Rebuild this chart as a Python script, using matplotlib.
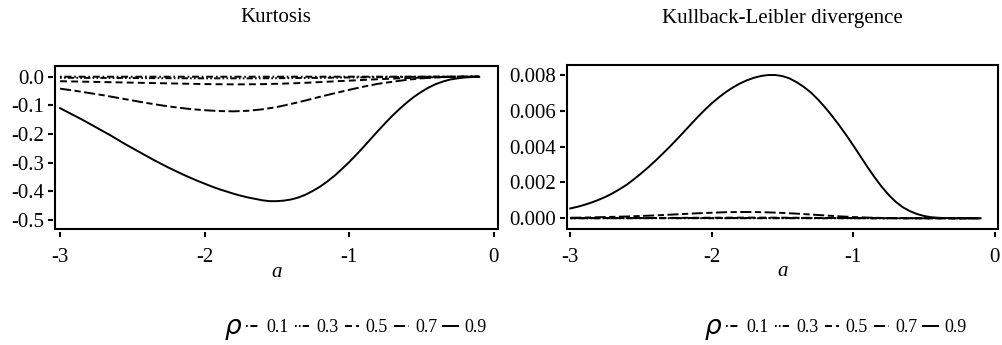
import numpy as np
import matplotlib
matplotlib.use("Agg")
import matplotlib.pyplot as plt
from matplotlib.patches import Rectangle

plt.rcParams['font.family'] = ['Liberation Serif', 'DejaVu Serif']
plt.rcParams['lines.scale_dashes'] = False

# coarse grid for the small-rho curves, finer grid for rho = 0.9
a_vals = [-3.0, -2.9, -2.8, -2.7, -2.6, -2.5, -2.4, -2.3, -2.2, -2.1,
          -2.0, -1.9, -1.8, -1.7, -1.6, -1.5, -1.4, -1.3, -1.2, -1.1,
          -1.0, -0.9, -0.8, -0.7, -0.6, -0.5, -0.4, -0.3, -0.2, -0.1]
a_fine = [-3.00, -2.95, -2.90, -2.85, -2.80, -2.75, -2.70, -2.65, -2.60, -2.55,
          -2.50, -2.45, -2.40, -2.35, -2.30, -2.25, -2.20, -2.15, -2.10, -2.05,
          -2.00, -1.95, -1.90, -1.85, -1.80, -1.75, -1.70, -1.65, -1.60, -1.55,
          -1.50, -1.45, -1.40, -1.35, -1.30, -1.25, -1.20, -1.15, -1.10, -1.05,
          -1.00, -0.95, -0.90, -0.85, -0.80, -0.75, -0.70, -0.65, -0.60, -0.55,
          -0.50, -0.45, -0.40, -0.35, -0.30, -0.25, -0.20, -0.15, -0.10]

rho_labels = ['0.1', '0.3', '0.5', '0.7', '0.9']

# kurtosis for each rho
kurt_01 = [-0.0003] * 20 + [-0.0002, -0.0002, -0.0001, -0.0001, -0.0001,
                            0.0, 0.0, 0.0, 0.0, 0.0]
kurt_03 = [-0.004, -0.0042, -0.0044, -0.0046, -0.0048, -0.005, -0.0052, -0.0054, -0.0056, -0.0058,
           -0.006, -0.006, -0.006, -0.006, -0.0058, -0.0055, -0.0051, -0.0047, -0.0042, -0.0036,
           -0.003, -0.0025, -0.002, -0.0015, -0.001, -0.0007, -0.0004, -0.0002, -0.0001, 0.0]
kurt_05 = [-0.016, -0.017, -0.018, -0.019, -0.020, -0.021, -0.022, -0.023, -0.024, -0.025,
           -0.026, -0.0265, -0.027, -0.0268, -0.0262, -0.025, -0.0235, -0.0215, -0.019, -0.0165,
           -0.014, -0.0115, -0.009, -0.007, -0.005, -0.0035, -0.002, -0.001, -0.0005, 0.0]
kurt_07 = [-0.042, -0.049, -0.057, -0.065, -0.074, -0.083, -0.092, -0.100, -0.107, -0.113,
           -0.117, -0.120, -0.121, -0.119, -0.114, -0.106, -0.095, -0.083, -0.070, -0.058,
           -0.046, -0.035, -0.025, -0.018, -0.011, -0.006, -0.003, -0.001, 0.0, 0.0]
kurt_09 = [-0.110, -0.123, -0.136, -0.149, -0.163, -0.177, -0.191, -0.205, -0.220, -0.235,
           -0.249, -0.263, -0.277, -0.291, -0.304, -0.317, -0.329, -0.341, -0.352, -0.363,
           -0.373, -0.383, -0.392, -0.400, -0.408, -0.415, -0.421, -0.426, -0.431, -0.434,
           -0.434, -0.432, -0.428, -0.421, -0.411, -0.398, -0.383, -0.365, -0.345, -0.322,
           -0.298, -0.272, -0.245, -0.217, -0.189, -0.162, -0.136, -0.112, -0.090, -0.070,
           -0.053, -0.038, -0.026, -0.017, -0.010, -0.006, -0.003, -0.0015, -0.001]

# Kullback-Leibler divergence for each rho
kl_01 = [0.0] * 30
kl_03 = [0.000001, 0.000001, 0.000001, 0.000002, 0.000002, 0.000002, 0.000003, 0.000003, 0.000003, 0.000003,
         0.000003, 0.000003, 0.000003, 0.000003, 0.000003, 0.000003, 0.000002, 0.000002, 0.000002, 0.000001,
         0.000001, 0.000001, 0.0, 0.0, 0.0, 0.0, 0.0, 0.0, 0.0, 0.0]
kl_05 = [0.000004, 0.000005, 0.000007, 0.000009, 0.000011, 0.000014, 0.000018, 0.000022, 0.000026, 0.000030,
         0.000033, 0.000036, 0.000038, 0.000038, 0.000037, 0.000034, 0.000030, 0.000025, 0.000019, 0.000014,
         0.000009, 0.000005, 0.000003, 0.000001, 0.0, 0.0, 0.0, 0.0, 0.0, 0.0]
kl_07 = [0.00003, 0.00004, 0.00006, 0.00008, 0.00010, 0.00013, 0.00016, 0.00020, 0.00024, 0.00028,
         0.00031, 0.00034, 0.00035, 0.00035, 0.00033, 0.00030, 0.00026, 0.00021, 0.00016, 0.00011,
         0.00007, 0.00004, 0.00002, 0.00001, 0.000005, 0.0, 0.0, 0.0, 0.0, 0.0]
kl_09 = [0.00055, 0.00064, 0.00075, 0.00088, 0.00103, 0.00120, 0.00140, 0.00163, 0.00188, 0.00218,
         0.00250, 0.00284, 0.00320, 0.00358, 0.00397, 0.00438, 0.00480, 0.00523, 0.00565, 0.00605,
         0.00642, 0.00675, 0.00705, 0.00731, 0.00753, 0.00771, 0.00785, 0.00795, 0.00800, 0.00800,
         0.00794, 0.00781, 0.00760, 0.00734, 0.00703, 0.00664, 0.00620, 0.00572, 0.00520, 0.00465,
         0.00407, 0.00347, 0.00287, 0.00230, 0.00177, 0.00131, 0.00092, 0.00062, 0.00040, 0.00024,
         0.00013, 0.00006, 0.00003, 0.00001, 0.0, 0.0, 0.0, 0.0, 0.0]

kurt_series = [kurt_01, kurt_03, kurt_05, kurt_07, kurt_09]
kl_series = [kl_01, kl_03, kl_05, kl_07, kl_09]

line_styles = [
    (0, (1.2, 2.0, 5.0, 2.0)),             # dot-dash
    (0, (1.2, 1.6, 1.2, 1.6, 4.5, 1.6)),   # dot-dot-dash
    (0, (5.0, 3.0)),                        # dashed
    (0, (8.0, 2.5, 4.5, 2.5)),              # long-short dash
    '-',
]

fig = plt.figure(figsize=(10.03, 3.45), dpi=100)
W, H = 1003, 345
ax1 = fig.add_axes([55 / W, 1 - 229 / H, 443 / W, 163 / H])
ax2 = fig.add_axes([567 / W, 1 - 228.5 / H, 431 / W, 163.5 / H])


def style_axes(ax):
    for side in ['top', 'right', 'left', 'bottom']:
        ax.spines[side].set_visible(False)
    ax.spines['left'].set_position(('outward', 1.5))
    ax.spines['bottom'].set_position(('outward', 2.2))
    ax.add_patch(Rectangle((0, 0), 1, 1, transform=ax.transAxes, fill=False,
                           lw=1.5, ec='black', clip_on=False, zorder=5))
    ax.tick_params(direction='out', length=3.5, width=1.5, labelsize=15,
                   color='black')
    ax.tick_params(axis='x', pad=8)
    ax.tick_params(axis='y', pad=3)
    ax.set_xticks([-3, -2, -1, 0])
    ax.set_xticklabels(['-3', '-2', '-1', '0'])
    ax.set_xlabel('a', fontsize=15, style='italic', labelpad=-3)


def x_for(ys):
    return a_fine if len(ys) == len(a_fine) else a_vals


handles = []
for ys, ls, lab in zip(kurt_series, line_styles, rho_labels):
    h, = ax1.plot(x_for(ys), ys, color='black', lw=1.4, linestyle=ls, label=lab)
    handles.append(h)
ax1.set_xlim(-3.035, 0.03)
ax1.set_ylim(-0.531, 0.037)
ax1.set_yticks([0.0, -0.1, -0.2, -0.3, -0.4, -0.5])
ax1.set_yticklabels(['0.0', '-0.1', '-0.2', '-0.3', '-0.4', '-0.5'])
style_axes(ax1)

for ys, ls, lab in zip(kl_series, line_styles, rho_labels):
    ax2.plot(x_for(ys), ys, color='black', lw=1.4, linestyle=ls, label=lab)
ax2.set_xlim(-3.023, 0.023)
ax2.set_ylim(-0.00057, 0.00856)
ax2.set_yticks([0.0, 0.002, 0.004, 0.006, 0.008])
ax2.set_yticklabels(['0.000', '0.002', '0.004', '0.006', '0.008'])
style_axes(ax2)

fig.text(276 / W, 1 - 18 / H, 'Kurtosis', ha='center', va='center', fontsize=15)
fig.text(782 / W, 1 - 18 / H, 'Kullback-Leibler divergence', ha='center', va='center', fontsize=15)

# rho legends under each panel
for rho_x, leg_x in [(233, 246), (713, 726)]:
    fig.text(rho_x / W, 1 - 330 / H, r'$\rho$', ha='center', va='center', fontsize=19)
    fig.legend(handles=handles, loc='center left',
               bbox_to_anchor=(leg_x / W, 1 - 328 / H), ncol=5, frameon=False,
               fontsize=13, handlelength=0.8, handletextpad=0.35,
               columnspacing=0.35, borderpad=0, borderaxespad=0)

fig.savefig('out.png', dpi=100)
